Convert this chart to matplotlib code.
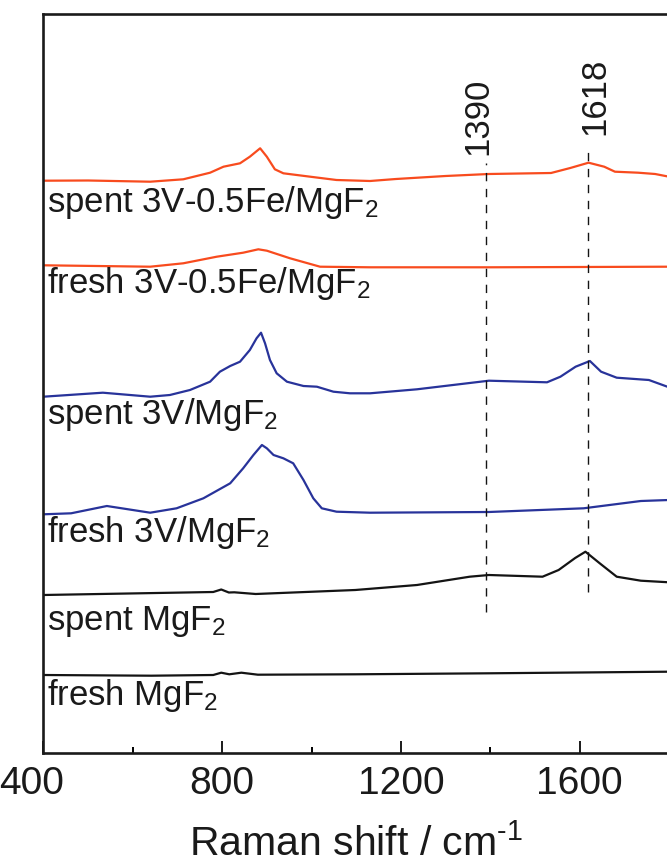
import matplotlib
matplotlib.use("Agg")
import matplotlib.pyplot as plt
from matplotlib import font_manager
import matplotlib.transforms as mtransforms

# ---------------- data (intensities in arbitrary units, offsets included) ----------------
wn_spent_fe = [400, 500, 639, 713, 773, 803, 840, 862, 885, 900, 918, 937, 997, 1056, 1131, 1189, 1300, 1397, 1536, 1579, 1620, 1655, 1679, 1731, 1769, 1800]
int_spent_fe = [572.3, 572.5, 571.3, 573.7, 580.3, 586.3, 589.7, 596.3, 604.7, 596.3, 583.7, 579.7, 576.3, 573, 572, 574, 577, 579, 580, 585, 590.3, 586.3, 581.3, 580.3, 579, 576.3]

wn_fresh_fe = [400, 639, 713, 788, 847, 881, 900, 952, 1019, 1131, 1397, 1600, 1800]
int_fresh_fe = [487.7, 486.3, 489.7, 496.3, 500.3, 503.7, 502.3, 494.7, 486.3, 485.7, 485.7, 486, 486.3]

wn_spent_v = [400, 533, 639, 683, 728, 773, 795, 818, 840, 862, 877, 887, 896, 907, 922, 945, 982, 1012, 1049, 1086, 1131, 1236, 1397, 1527, 1557, 1591, 1623, 1648, 1683, 1755, 1800]
int_spent_v = [356.3, 360.3, 356.3, 358, 363, 371.3, 381.3, 387, 391.3, 403, 414.7, 420.3, 409.7, 393, 379.7, 371.3, 367, 366.3, 361.3, 359.7, 359.7, 363.7, 372.3, 370.7, 376.3, 386.3, 392, 381.3, 375.3, 373, 365.7]

wn_fresh_v = [400, 462, 542, 639, 698, 758, 818, 847, 870, 889, 900, 915, 937, 959, 982, 1004, 1023, 1056, 1131, 1397, 1609, 1737, 1800]
int_fresh_v = [238.7, 239.7, 247, 240.3, 244.7, 254.7, 269.7, 284.7, 298, 308, 304.7, 298, 294.7, 289.7, 273, 254.7, 244.7, 241.3, 240.3, 241, 244.7, 252, 253]

wn_spent_mg = [400, 780, 798, 815, 827, 875, 1098, 1236, 1354, 1397, 1517, 1553, 1590, 1613, 1645, 1683, 1737, 1800]
int_spent_mg = [158, 161, 163.5, 160.5, 160.7, 159, 163, 168, 176.3, 178, 176.3, 183, 195, 201.3, 189.7, 176.3, 172.3, 170.7]

wn_fresh_mg = [400, 642, 780, 798, 816, 843, 880, 1098, 1397, 1800]
int_fresh_mg = [78, 77.3, 78, 80.3, 78.7, 80.3, 78.3, 78.7, 79.7, 81.3]

sample_labels = ["spent 3V-0.5Fe/MgF$_{\\mathrm{2}}$", "fresh 3V-0.5Fe/MgF$_{\\mathrm{2}}$",
                 "spent 3V/MgF$_{\\mathrm{2}}$", "fresh 3V/MgF$_{\\mathrm{2}}$",
                 "spent MgF$_{\\mathrm{2}}$", "fresh MgF$_{\\mathrm{2}}$"]

peak_positions = [1390, 1618]
peak_labels = ["1390", "1618"]
peak_line_ranges = [(141, 590), (161, 601)]

x_ticks = [400, 800, 1200, 1600]
x_minor = [600, 1000, 1400, 1800]

# ---------------- style ----------------
names = {f.name for f in font_manager.fontManager.ttflist}
base_font = "Liberation Sans" if "Liberation Sans" in names else "DejaVu Sans"
plt.rcParams["font.family"] = [base_font, "DejaVu Sans"]
plt.rcParams["mathtext.fontset"] = "custom"
plt.rcParams["mathtext.rm"] = base_font
plt.rcParams["mathtext.it"] = base_font
plt.rcParams["mathtext.bf"] = base_font

ORANGE = "#F84B1E"
BLUE = "#28339A"
BLACK = "#141414"
TEXT = "#1a1a1a"

fig = plt.figure(figsize=(6.67, 8.64), dpi=100)
W, H = 667.0, 864.0
left_px, right_px, top_px, bottom_px = 43.4, 669.0, 14.0, 753.0
ax = fig.add_axes([left_px / W, (H - bottom_px) / H, (right_px - left_px) / W, (bottom_px - top_px) / H])

series = [
    (wn_spent_fe, int_spent_fe, ORANGE),
    (wn_fresh_fe, int_fresh_fe, ORANGE),
    (wn_spent_v, int_spent_v, BLUE),
    (wn_fresh_v, int_fresh_v, BLUE),
    (wn_spent_mg, int_spent_mg, BLACK),
    (wn_fresh_mg, int_fresh_mg, BLACK),
]
for wx, iy, c in series:
    ax.plot(wx, iy, color=c, lw=1.6, solid_joinstyle="round", solid_capstyle="round")

# sample labels (baseline positions)
label_baselines = [541, 460, 329, 211, 123, 48]
for lab, yb in zip(sample_labels, label_baselines):
    ax.text(409, yb, lab, fontsize=25, color=TEXT, va="baseline", ha="left")

# peak markers
label_dx = [-6, 5]
label_bottoms = [598, 618]
for xp, lab, (y0, y1), dx, yb in zip(peak_positions, peak_labels, peak_line_ranges, label_dx, label_bottoms):
    ax.plot([xp, xp], [y0, y1], color=BLACK, lw=1.0, dashes=(6, 5.5))
    ax.annotate(lab, xy=(xp, yb), xytext=(dx, 0), textcoords="offset points",
                rotation=90, ha="center", va="bottom", fontsize=25, color=TEXT)

ax.set_xlim(400, 1800)
ax.set_ylim(0, 739)
ax.set_xticks(x_ticks)
ax.set_xticklabels([str(t) for t in x_ticks])
ax.set_xticks(x_minor, minor=True)
ax.set_yticks([])
ax.tick_params(axis="x", which="major", direction="in", length=8.5, width=1.4, labelsize=28, pad=9, colors=TEXT)
ax.tick_params(axis="x", which="minor", direction="in", length=4, width=1.4)
for s in ["left", "top", "bottom", "right"]:
    ax.spines[s].set_linewidth(1.9)
    ax.spines[s].set_color(TEXT)

# shift the first tick label slightly left as in the reference
first = ax.get_xticklabels()[0]
first.set_transform(first.get_transform() + mtransforms.ScaledTranslation(-12 / 100, 0, fig.dpi_scale_trans))

ax.set_xlabel("Raman shift / cm$^{\\text{-1}}$", fontsize=29.5, color=TEXT, labelpad=16)

fig.savefig("out.png", dpi=100)
